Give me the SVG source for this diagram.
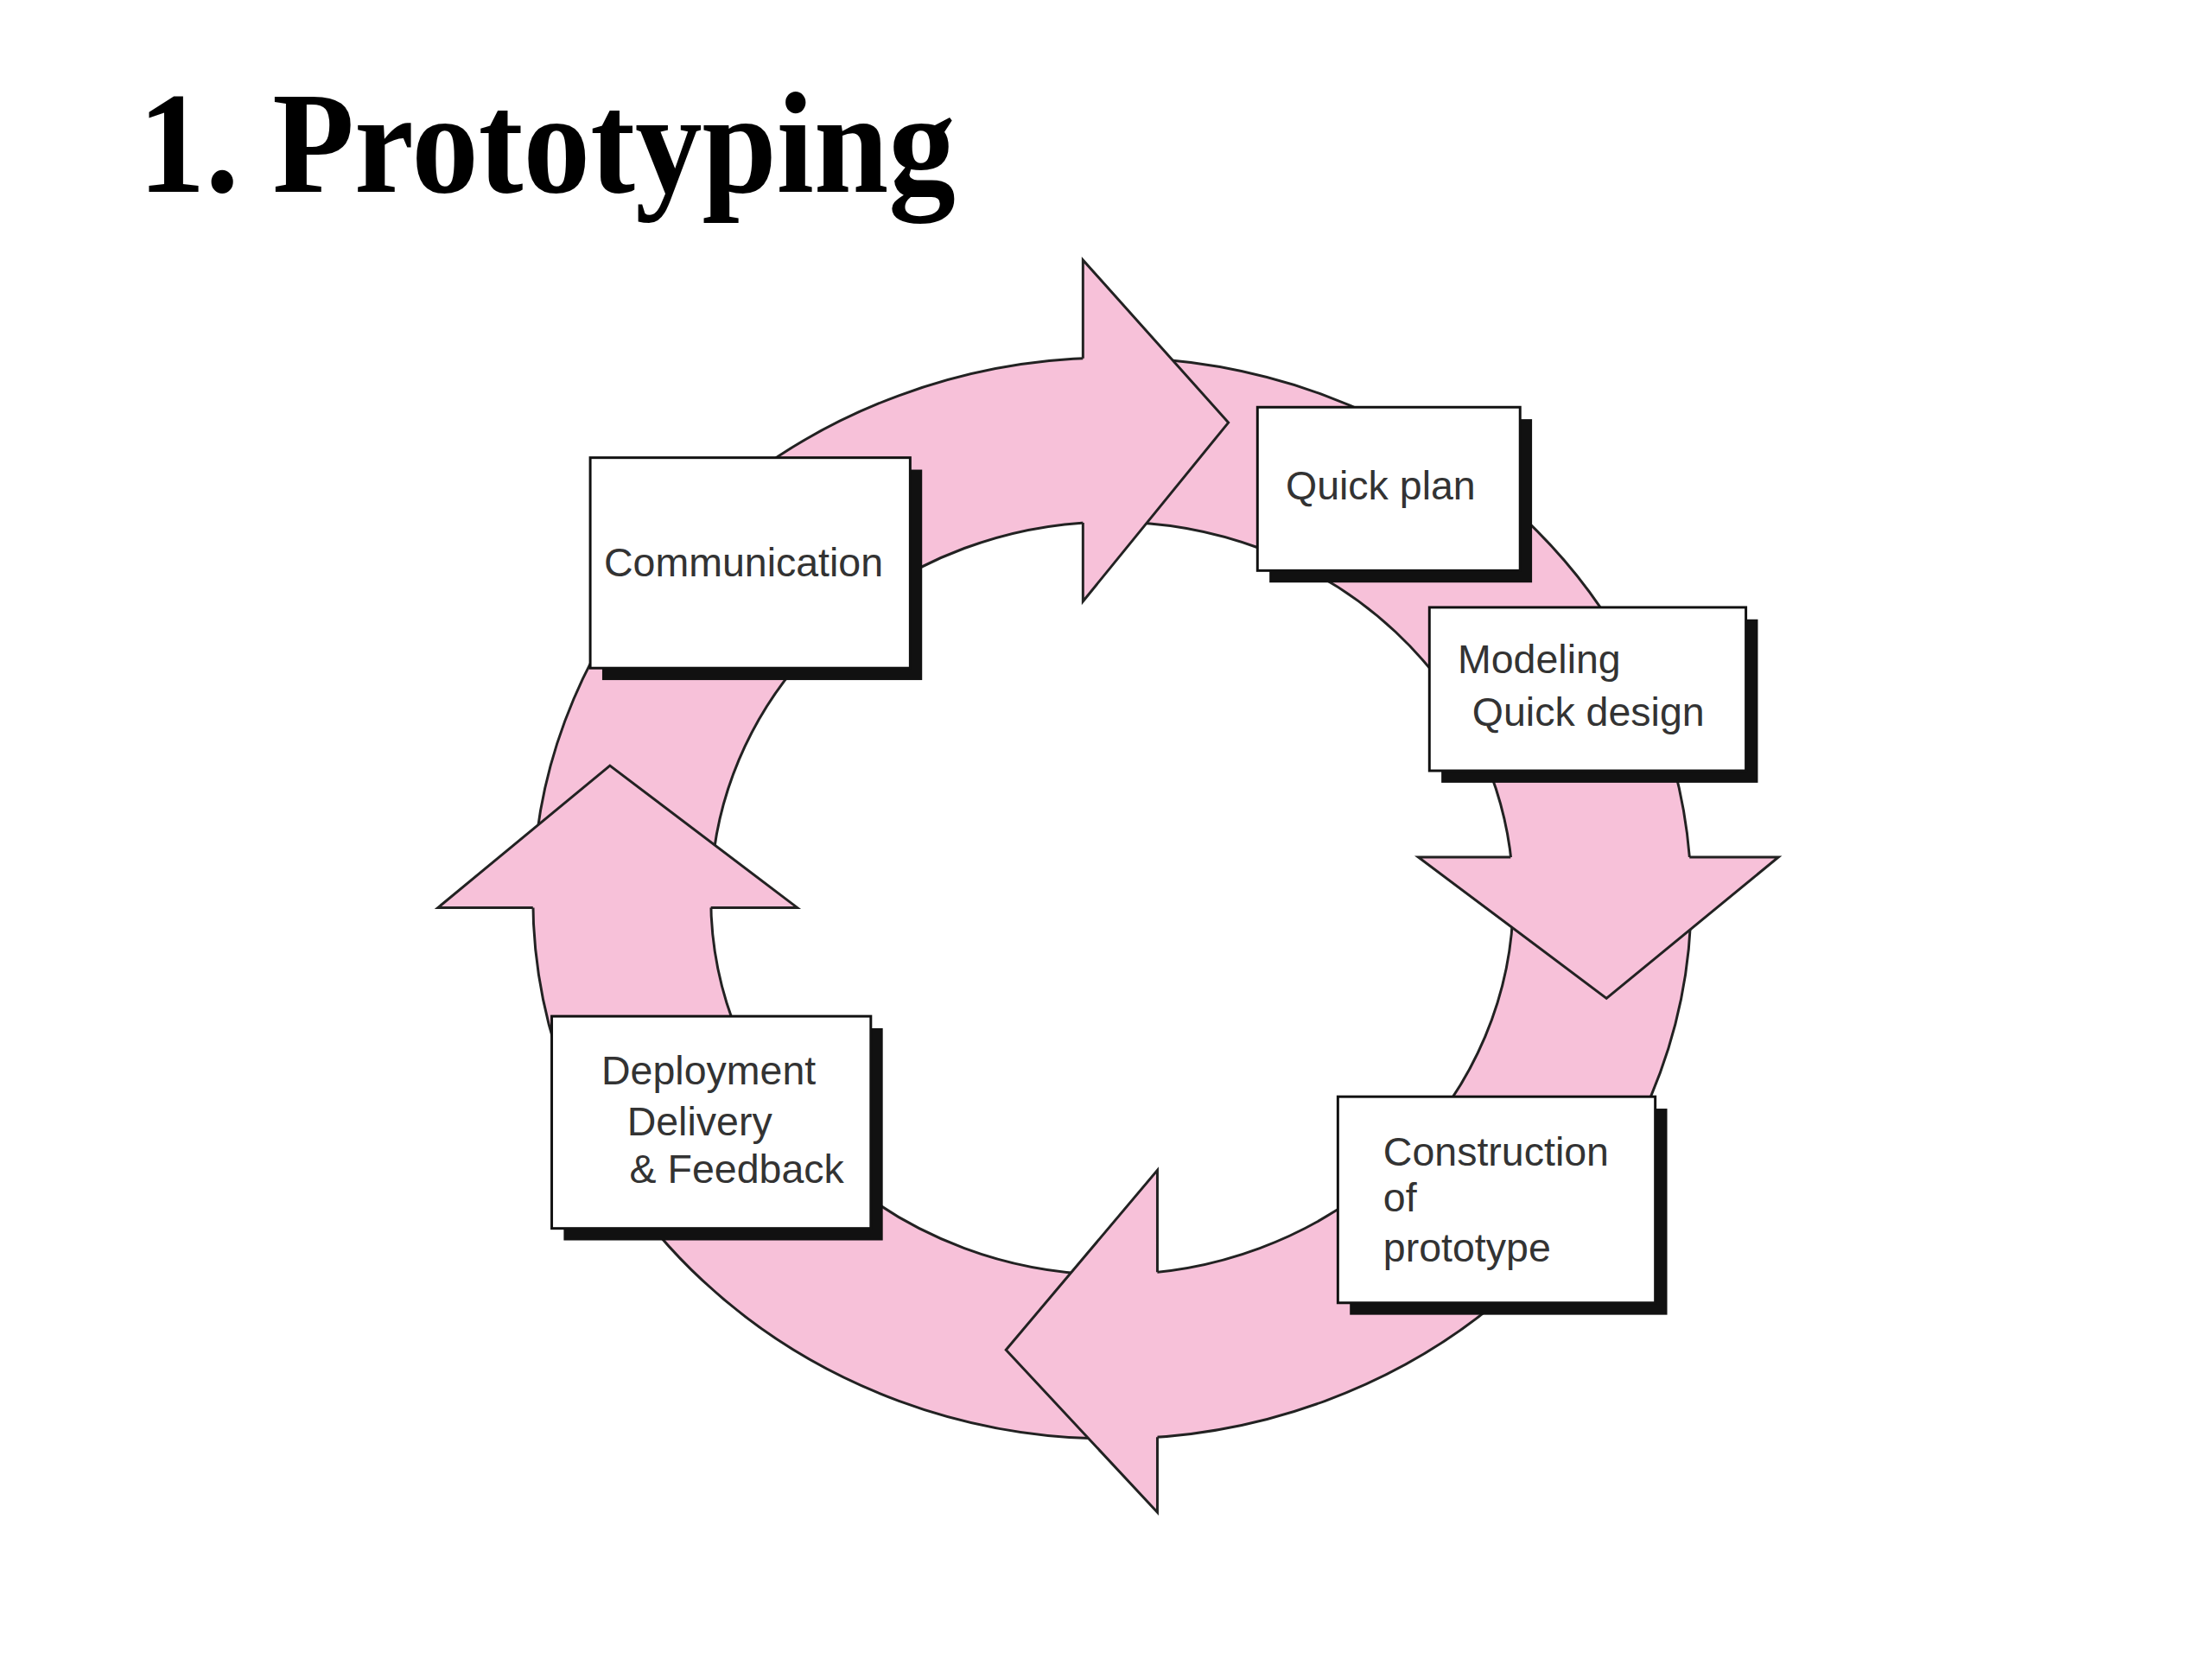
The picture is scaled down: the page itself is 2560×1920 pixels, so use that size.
<svg xmlns="http://www.w3.org/2000/svg" width="2560" height="1920" viewBox="0 0 2560 1920">
<style>
.ring{fill:#f7c1d9;stroke:#222;stroke-width:3;fill-rule:evenodd}
.head{fill:#f7c1d9;stroke:none}
.edge{fill:none;stroke:#222;stroke-width:3;stroke-linejoin:miter}
.box{fill:#fff;stroke:#111;stroke-width:3}
.sh{fill:#111}
.t{font-family:"Liberation Sans",Arial,sans-serif;font-size:47px;fill:#333}
.title{font-family:"Liberation Serif","Times New Roman",serif;font-weight:bold;font-size:168px;fill:#000}
</style>
<rect width="2560" height="1920" fill="#fff"/>
<text class="title" x="160" y="222" textLength="946" lengthAdjust="spacingAndGlyphs">1. Prototyping</text>
<g transform="matrix(0.99,0,0,0.99,0,2)">
<g id="connectors">
<path class="ring" d="M623,1048 A677,632 0 1 0 1977,1048 A677,632 0 1 0 623,1048 Z M831,1048 A469,440 0 1 1 1769,1048 A469,440 0 1 1 831,1048 Z"/>
<polygon class="head" points="1266,302 1436,492 1266,701"/>
<path class="edge" d="M1266,417 L1266,302 L1436,492 L1266,701 L1266,609"/>
<polygon class="head" points="1658,1000 2079,1000 1878,1165"/>
<path class="edge" d="M1766,1000 L1658,1000 L1878,1165 L2079,1000 L1975,1000"/>
<polygon class="head" points="1353,1366 1176,1576 1353,1766"/>
<path class="edge" d="M1353,1485 L1353,1366 L1176,1576 L1353,1766 L1353,1678"/>
<polygon class="head" points="512,1059 713,893 932,1059"/>
<path class="edge" d="M623,1059 L512,1059 L713,893 L932,1059 L831,1059"/>
</g>
<g id="communication">
<rect class="sh" x="704" y="547" width="374" height="246"/>
<rect class="box" x="690" y="533" width="374" height="246"/>
<text class="t" x="706" y="672">Communication</text>
</g>
<g id="quickplan">
<rect class="sh" x="1484" y="488" width="307" height="191"/>
<rect class="box" x="1470" y="474" width="307" height="191"/>
<text class="t" x="1503" y="582">Quick plan</text>
</g>
<g id="modeling">
<rect class="sh" x="1685" y="722" width="370" height="191"/>
<rect class="box" x="1671" y="708" width="370" height="191"/>
<text class="t" x="1704" y="785">Modeling</text>
<text class="t" x="1721" y="846">Quick design</text>
</g>
<g id="construction">
<rect class="sh" x="1578" y="1294" width="371" height="241"/>
<rect class="box" x="1564" y="1280" width="371" height="241"/>
<text class="t" x="1617" y="1361">Construction</text>
<text class="t" x="1617" y="1414">of</text>
<text class="t" x="1617" y="1473">prototype</text>
</g>
<g id="deployment">
<rect class="sh" x="659" y="1200" width="373" height="248"/>
<rect class="box" x="645" y="1186" width="373" height="248"/>
<text class="t" x="703" y="1266">Deployment</text>
<text class="t" x="733" y="1325">Delivery</text>
<text class="t" x="736" y="1381">&amp; Feedback</text>
</g>
</g>
</svg>
